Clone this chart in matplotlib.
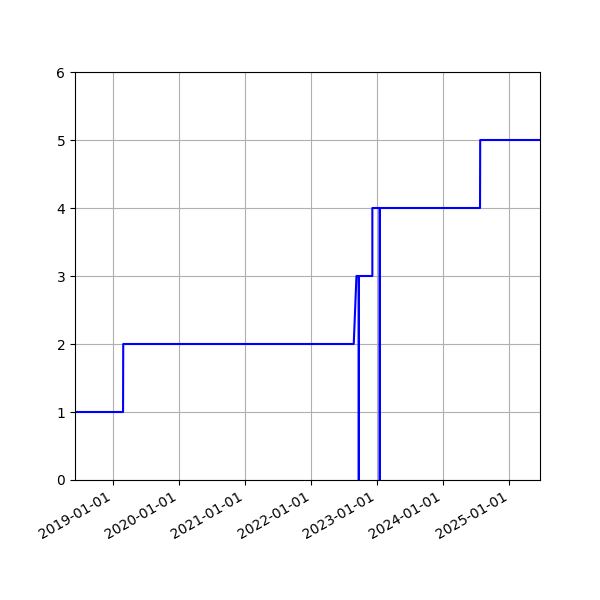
import numpy as np
import pandas as pd
import matplotlib
matplotlib.use("Agg")
import matplotlib.pyplot as plt
import matplotlib.dates as mdates

dates = pd.to_datetime([
    "2018-06-03", "2019-02-24", "2019-02-25",
    "2022-08-24", "2022-09-08", "2022-09-21", "2022-09-21", "2022-09-21",
    "2022-12-05", "2022-12-05", "2023-01-15", "2023-01-15", "2023-01-15",
    "2024-07-23", "2024-07-24", "2025-06-20",
])
values = [1, 1, 2,
          2, 3, 3, 0, 3,
          3, 4, 4, 0, 4,
          4, 5, 5]

fig, ax = plt.subplots(figsize=(6, 6), dpi=100)
ax.plot(dates, values, color="blue")

ax.set_xlim(dates[0], dates[-1])
ax.set_ylim(0, 6)
ax.xaxis.set_major_locator(mdates.YearLocator())
ax.xaxis.set_major_formatter(mdates.DateFormatter("%Y-%m-%d"))
ax.grid(True)
fig.autofmt_xdate()

fig.savefig("out.png")
